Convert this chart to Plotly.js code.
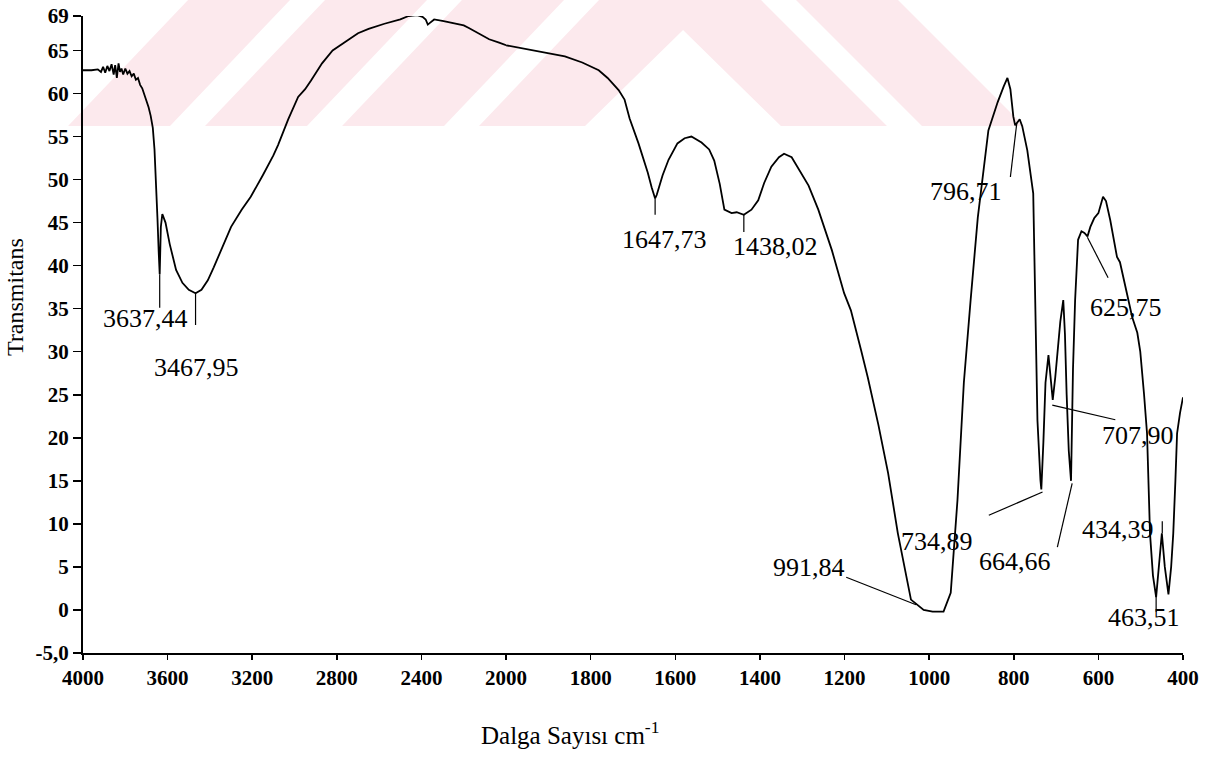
<!DOCTYPE html>
<html>
<head>
<meta charset="utf-8">
<script src="https://cdn.plot.ly/plotly-3.0.1.min.js"></script>
<style>html,body{margin:0;padding:0;background:#fff;}#chart{width:1224px;height:758px;}</style>
</head>
<body>
<div id="chart"></div>
<script>
// ---- data ----
const wavenumber = [
  4000, 3960, 3930, 3915, 3905, 3895, 3885, 3875, 3865, 3855, 3848, 3840, 3832, 3825, 3818, 3810, 3800, 3790,
  3780, 3770, 3760, 3750, 3740, 3730, 3720, 3710, 3700, 3690, 3680, 3670, 3662, 3655, 3648, 3642, 3637.44,
  3632, 3625, 3610, 3590, 3560, 3530, 3500, 3467.95, 3440, 3410, 3382, 3335, 3300, 3250, 3207, 3150, 3100,
  3078, 3030, 2983, 2950, 2922, 2870, 2820, 2746, 2700, 2650, 2575, 2500, 2461, 2420, 2395, 2380, 2370,
  2360, 2340, 2295, 2250, 2200, 2176, 2120, 2080, 2033, 2000,
  1939, 1900, 1861, 1820, 1781, 1760, 1734, 1720, 1708, 1687, 1665, 1656, 1647.73, 1644, 1630, 1616, 1595,
  1578, 1562, 1538, 1520, 1508, 1495, 1484, 1467, 1455, 1438.02, 1420, 1404, 1390, 1373, 1355, 1343, 1325,
  1310, 1285, 1262, 1230, 1201, 1185, 1161, 1145, 1120, 1097, 1074, 1043, 1013, 991.84, 966, 949, 933, 918,
  902, 885, 860, 838, 824, 815, 808, 801, 796.71, 790, 786, 780, 768, 754, 749, 744, 737, 734.89, 730, 725,
  718, 714, 707.90, 702, 697, 690, 683, 679, 675, 670, 664.66, 662, 660, 655, 648, 640, 633, 625.75, 619,
  610, 600, 589, 582, 572, 556, 549, 540, 532, 520, 508, 501, 492, 485, 478, 471, 463.51, 457, 450, 443,
  434.39, 428, 423, 418, 414, 407, 400
];
const transmittance = [
  62.7, 62.7, 62.8, 62.5, 63.1, 62.4, 63.2, 62.6, 63.4, 62.2, 63.3, 61.8, 63.5, 62.5, 62.9, 62.2, 62.9, 62.3,
  62.6, 62.0, 62.3, 61.6, 61.8, 61.0, 60.6, 59.8, 59.3, 58.4, 57.4, 56.0, 53.5, 50.0, 45.5, 41.5, 39.0,
  44.5, 46.0, 45.0, 42.5, 39.5, 38.0, 37.2, 36.8, 37.2, 38.3, 39.8, 42.5, 44.5, 46.5, 48.0, 50.5, 52.8,
  54.0, 57.0, 59.6, 60.5, 61.5, 63.5, 65.0, 66.2, 67.0, 67.5, 68.1, 68.6, 69.0, 69.1, 68.9, 68.6, 68.0,
  68.2, 68.6, 68.4, 68.2, 67.9, 67.6, 66.8, 66.3, 65.9, 65.6,
  65.0, 64.7, 64.3, 63.6, 62.7, 61.8, 60.4, 59.3, 57.1, 54.2, 50.8, 49.1, 47.8, 48.2, 50.5, 52.3, 54.2,
  54.8, 55.0, 54.3, 53.5, 52.2, 49.5, 46.5, 46.1, 46.2, 45.9, 46.5, 47.6, 49.6, 51.5, 52.6, 53.0, 52.6,
  51.4, 49.3, 46.5, 41.8, 36.8, 34.8, 30.2, 27.0, 21.5, 15.9, 8.9, 1.2, 0.0, -0.2, -0.2, 2.0, 12.8, 26.4,
  36.0, 45.6, 55.7, 59.0, 60.8, 61.8, 60.5, 57.3, 56.3, 56.8, 57.0, 56.2, 53.4, 48.4, 32.9, 22.0, 15.1, 14.0, 19.5, 26.4,
  29.6, 27.5, 24.4, 27.0, 30.0, 33.5, 36.0, 32.0, 25.0, 18.5, 15.0, 22.0, 28.0, 36.0, 43.0, 44.0, 43.8, 43.4, 44.5,
  45.5, 46.1, 48.0, 47.5, 45.3, 41.0, 40.4, 38.5, 36.8, 34.0, 32.2, 30.0, 25.0, 20.5, 8.9, 4.0, 1.5, 5.0, 8.9, 5.0,
  1.8, 5.0, 8.9, 15.0, 20.5, 22.9, 24.7
];

// peak labels: text, label position (wavenumber, T), leader line (w0,T0)-(w1,T1)
const peakText   = ["3637,44", "3467,95", "1647,73", "1438,02", "796,71", "625,75", "707,90", "734,89", "664,66", "991,84", "434,39", "463,51"];
const peakLabelW = [3705, 3463, 1625, 1363, 914, 534, 506, 982, 796, 1284, 553, 492];
const peakLabelT = [33.9, 28.2, 43.0, 42.2, 48.6, 35.1, 20.3, 7.9, 5.6, 4.9, 9.3, -0.9];
const leadW0 = [3637.44, 3467.95, 1647.73, 1438.02, 808, 626, 709, 859, 697, 1196, 449, 463.51];
const leadT0 = [39.0, 36.8, 47.8, 45.9, 50.3, 43.3, 23.8, 11.0, 7.3, 3.8, 8.9, 2.3];
const leadW1 = [3637.44, 3467.95, 1647.73, 1438.02, 793, 577, 560, 732, 662, 1031, 449, 463.51];
const leadT1 = [35.1, 33.1, 45.9, 43.9, 56.5, 38.6, 22.1, 13.7, 14.7, 0.6, 10.3, -0.2];

const yTickVals = [-5, 0, 5, 10, 15, 20, 25, 30, 35, 40, 45, 50, 55, 60, 65, 69];
const yTickText = ["-5,0", "0", "5", "10", "15", "20", "25", "30", "35", "40", "45", "50", "55", "60", "65", "69"];
const xTicksHigh = [4000, 3600, 3200, 2800, 2400];
const xTicksLow = [2000, 1800, 1600, 1400, 1200, 1000, 800, 600, 400];

const SPLIT = 2000;
const FONT = "Liberation Serif, Times New Roman, serif";

// split the spectrum over the two scaled axis segments
const hiW = [], hiT = [], loW = [], loT = [];
wavenumber.forEach((w, i) => {
  if (w >= SPLIT) { hiW.push(w); hiT.push(transmittance[i]); }
  if (w <= SPLIT) { loW.push(w); loT.push(transmittance[i]); }
});

const lineStyle = {color: "#000", width: 1.8};
const traces = [
  {x: hiW, y: hiT, xaxis: "x", yaxis: "y", type: "scatter", mode: "lines", line: lineStyle, hoverinfo: "skip"},
  {x: loW, y: loT, xaxis: "x2", yaxis: "y", type: "scatter", mode: "lines", line: lineStyle, hoverinfo: "skip"}
];

const axRef = w => (w > SPLIT ? "x" : "x2");

const annotations = peakText.map((t, i) => ({
  text: t, x: peakLabelW[i], y: peakLabelT[i], xref: axRef(peakLabelW[i]), yref: "y",
  showarrow: false, xanchor: "center", yanchor: "middle",
  font: {family: FONT, size: 26, color: "#000"}
}));
annotations.push({
  text: "Transmitans", xref: "paper", yref: "paper", x: -0.0618, y: 0.559, textangle: -90,
  showarrow: false, xanchor: "center", yanchor: "middle", font: {family: FONT, size: 24, color: "#000"}
});
annotations.push({
  text: "Dalga Sayısı cm<sup>-1</sup>", xref: "paper", yref: "paper", x: 0.443, y: -0.126,
  showarrow: false, xanchor: "center", yanchor: "middle", font: {family: FONT, size: 25, color: "#000"}
});

const shapes = peakText.map((t, i) => ({
  type: "line", xref: axRef(Math.max(leadW0[i], leadW1[i]) > SPLIT ? 3000 : 1000), yref: "y",
  x0: leadW0[i], y0: leadT0[i], x1: leadW1[i], y1: leadT1[i],
  line: {color: "#000", width: 1.2}
}));

// faint background watermark (decoration, page pixels converted to paper units)
const PLOT = {l: 83, r: 1183, t: 16, b: 653};
const px2paper = (px, py) => [(px - PLOT.l) / (PLOT.r - PLOT.l), (PLOT.b - py) / (PLOT.b - PLOT.t)];
const pathOf = pts => pts.map((p, i) => { const q = px2paper(p[0], p[1]); return (i ? "L" : "M") + q[0].toFixed(4) + "," + q[1].toFixed(4); }).join(" ") + " Z";
const wmPolys = [
  [[68, 126], [170, 126], [290, 0], [188, 0]],
  [[205, 126], [307, 126], [427, 0], [325, 0]],
  [[342, 126], [444, 126], [564, 0], [462, 0]],
  [[479, 126], [585, 126], [683, 30], [781, 126], [887, 126], [761, 0], [599, 0]],
  [[922, 126], [1024, 126], [898, 0], [796, 0]]
];
wmPolys.forEach(poly => shapes.unshift({
  type: "path", xref: "paper", yref: "paper", layer: "below", path: pathOf(poly),
  fillcolor: "#fce9ed", line: {width: 0}
}));

const xCommon = {
  showgrid: false, zeroline: false, showline: true, linecolor: "#000", linewidth: 2,
  ticks: "outside", ticklen: 5, tickwidth: 1.5, tickcolor: "#000", anchor: "y",
  tickfont: {family: FONT, size: 21, color: "#000", weight: "bold"}, tickmode: "array"
};

const layout = {
  width: 1224, height: 758,
  margin: {l: 83, r: 41, t: 16, b: 105},
  paper_bgcolor: "#fff", plot_bgcolor: "rgba(0,0,0,0)",
  showlegend: false,
  xaxis: Object.assign({}, xCommon, {domain: [0, 5 / 13], range: [4000, SPLIT], tickvals: xTicksHigh, ticktext: xTicksHigh.map(String)}),
  xaxis2: Object.assign({}, xCommon, {domain: [5 / 13, 1], range: [SPLIT, 400], tickvals: xTicksLow, ticktext: xTicksLow.map(String)}),
  yaxis: {
    range: [-5, 69], showgrid: false, zeroline: false, showline: true, linecolor: "#000", linewidth: 2,
    ticks: "outside", ticklen: 8, tickwidth: 1.5, tickcolor: "#000",
    tickmode: "array", tickvals: yTickVals, ticktext: yTickText,
    tickfont: {family: FONT, size: 21, color: "#000", weight: "bold"}
  },
  annotations: annotations,
  shapes: shapes
};

Plotly.newPlot("chart", traces, layout, {displayModeBar: false, staticPlot: true});
</script>
</body>
</html>
